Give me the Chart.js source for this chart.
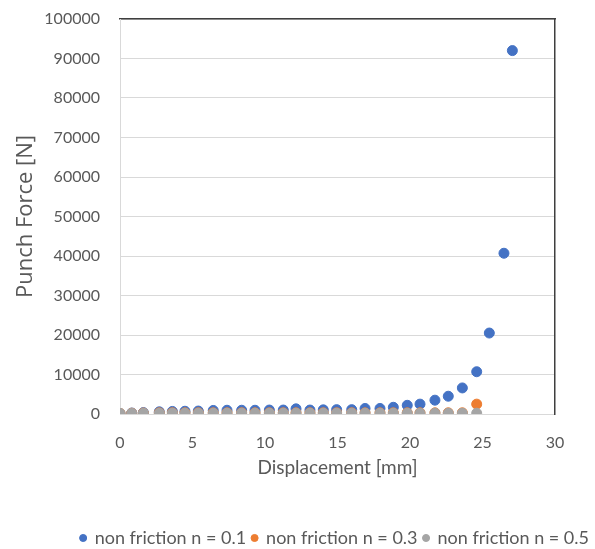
<!DOCTYPE html>
<html>
<head>
<meta charset="utf-8">
<script src="https://cdn.jsdelivr.net/npm/chart.js@4.4.1/dist/chart.umd.min.js"></script>
<style>
  html, body { margin: 0; padding: 0; background: #ffffff; }
  #wrap { width: 595px; height: 549px; position: relative; }
</style>
</head>
<body>
<div id="wrap"><canvas id="c" width="595" height="549"></canvas></div>
<script>
// Displacement [mm] values (shared)
const displacement = [0, 0.81, 1.61, 2.71, 3.61, 4.48, 5.40, 6.43, 7.38, 8.39, 9.31, 10.30, 11.26, 12.14, 13.10, 14.02, 14.94, 15.98, 16.90, 17.93, 18.85, 19.81, 20.69, 21.72, 22.64, 23.61, 24.60];
const displacementExtra = [25.47, 26.48, 27.06];

// Punch force [N]
const forceN01 = [100, 250, 350, 550, 650, 700, 750, 900, 950, 950, 950, 1000, 1000, 1300, 1000, 1050, 1100, 1100, 1400, 1400, 1700, 2200, 2500, 3500, 4500, 6600, 10700, 20500, 40700, 92000];
const forceN03 = [150, 200, 250, 300, 300, 300, 300, 300, 300, 300, 300, 300, 300, 300, 300, 300, 300, 300, 300, 300, 300, 300, 300, 300, 300, 300, 2500];
const forceN05 = [150, 150, 200, 200, 200, 200, 200, 200, 200, 200, 200, 200, 200, 200, 200, 200, 200, 200, 200, 200, 200, 200, 200, 200, 200, 200, 200];

const seriesLabels = ['non friction n = 0.1', 'non friction n = 0.3', 'non friction n = 0.5'];
const xTicks = [0, 5, 10, 15, 20, 25, 30];
const yTicks = [0, 10000, 20000, 30000, 40000, 50000, 60000, 70000, 80000, 90000, 100000];

const xAll = displacement.concat(displacementExtra);
const toPts = (xs, ys) => ys.map((y, i) => ({ x: xs[i], y: y }));

const FONT = 'Lato, "Liberation Sans", sans-serif';
const TXT = '#595959';

new Chart(document.getElementById('c'), {
  type: 'scatter',
  data: {
    datasets: [
      { label: seriesLabels[0], data: toPts(xAll, forceN01), backgroundColor: '#4472C4', borderColor: '#4472C4', pointRadius: 5, order: 3 },
      { label: seriesLabels[1], data: toPts(displacement, forceN03), backgroundColor: '#ED7D31', borderColor: '#ED7D31', pointRadius: 5, order: 2 },
      { label: seriesLabels[2], data: toPts(displacement, forceN05), backgroundColor: '#A5A5A5', borderColor: '#A5A5A5', pointRadius: 5, order: 1 }
    ]
  },
  options: {
    responsive: false,
    animation: false,
    layout: { padding: { top: 0, bottom: -8, left: 0, right: 0 } },
    plugins: {
      tooltip: { enabled: false },
      legend: {
        position: 'bottom',
        align: 'end',
        labels: {
          usePointStyle: true,
          pointStyle: 'circle',
          boxWidth: 5,
          boxHeight: 5,
          padding: 6,
          color: TXT,
          font: { family: FONT, size: 18 },
          sort: (a, b) => a.datasetIndex - b.datasetIndex
        }
      }
    },
    scales: {
      x: {
        type: 'linear',
        min: 0, max: 30,
        afterBuildTicks: (s) => { s.ticks = xTicks.map(v => ({ value: v })); },
        afterFit: (s) => { s.height = 109; s.paddingLeft = 0; s.paddingRight = 0; },
        grid: { display: false, drawTicks: false },
        border: { display: false },
        ticks: { color: TXT, font: { family: FONT, size: 16 }, padding: 19, maxRotation: 0, callback: (v) => String(v) },
        title: { display: true, text: 'Displacement [mm]', color: TXT, font: { family: FONT, size: 19 }, padding: { top: 4, bottom: 44 } }
      },
      x2: {
        type: 'linear', position: 'top', min: 0, max: 30,
        afterFit: (s) => { s.height = 19; s.paddingLeft = 0; s.paddingRight = 0; },
        grid: { display: false, drawTicks: false },
        border: { display: true, color: '#3f3f3f', width: 1.5 },
        ticks: { display: false }
      },
      y: {
        type: 'linear',
        min: 0, max: 100000,
        afterBuildTicks: (s) => { s.ticks = yTicks.map(v => ({ value: v })); },
        afterFit: (s) => { s.width = 120; s.paddingTop = 0; s.paddingBottom = 0; },
        grid: { color: '#D9D9D9', lineWidth: 1, drawTicks: false },
        border: { display: true, color: '#D9D9D9' },
        ticks: { color: TXT, font: { family: FONT, size: 16 }, padding: 20, callback: (v) => String(v) },
        title: { display: true, text: 'Punch Force [N]', color: TXT, font: { family: '"Open Sans", Lato, sans-serif', size: 22 }, padding: { top: 13, bottom: 0 } }
      },
      y2: {
        type: 'linear', position: 'right', min: 0, max: 100000,
        afterFit: (s) => { s.width = 40; s.paddingTop = 0; s.paddingBottom = 0; },
        grid: { display: false, drawTicks: false },
        border: { display: true, color: '#3f3f3f', width: 1.5 },
        ticks: { display: false }
      }
    }
  }
});
</script>
</body>
</html>
